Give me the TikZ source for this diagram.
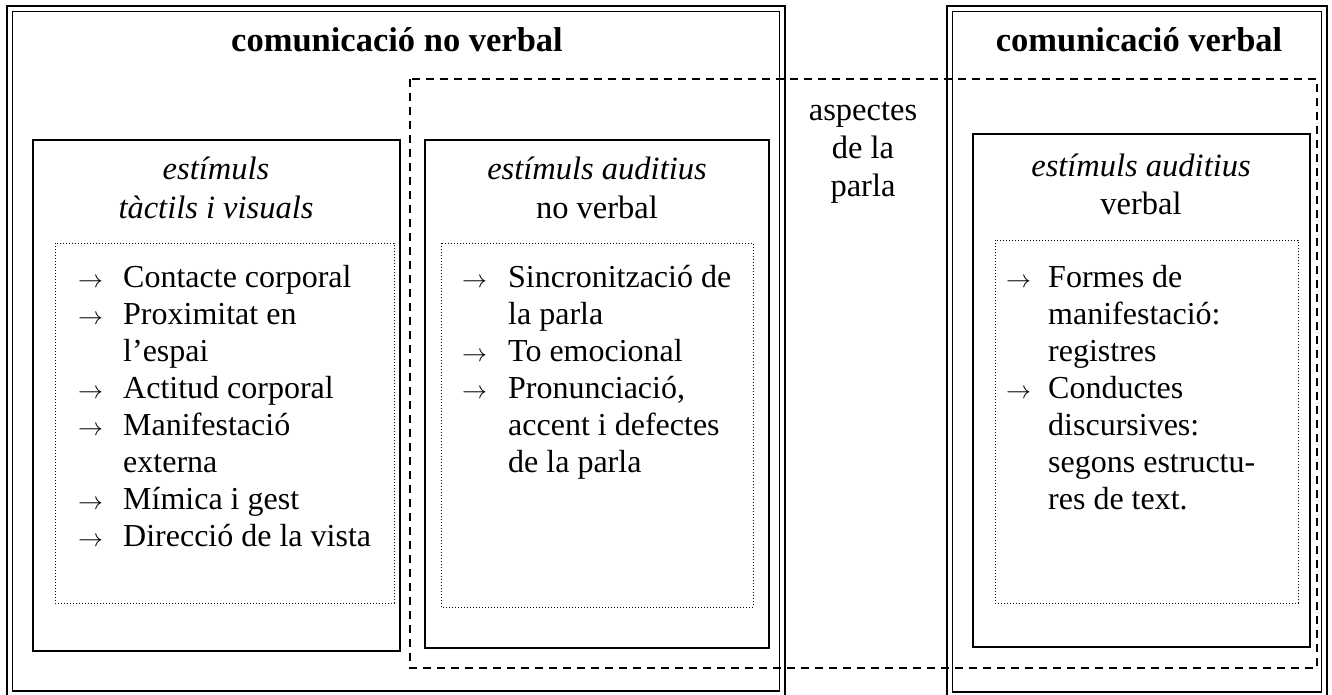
\documentclass[tikz,border=0pt]{standalone}
\usepackage{fontspec}
\setmainfont{Liberation Serif}
\newcommand\myarr{\fontsize{27}{27}\selectfont$\rightarrow$}
\begin{document}
\begin{tikzpicture}[x=1pt,y=-1pt,
  dbl/.style={line width=1.9pt},
  inbox/.style={line width=1.6pt},
  dotbox/.style={line width=0.9pt, dash pattern=on 1pt off 2pt},
  dashbox/.style={line width=1.8pt, dash pattern=on 8pt off 6pt},
  ttl/.style={inner sep=0pt, anchor=base, font=\fontsize{34.5}{38}\selectfont\bfseries},
  hd/.style={inner sep=0pt, anchor=base, font=\fontsize{32.5}{38}\selectfont},
  lst/.style={inner sep=0pt, anchor=base west, font=\fontsize{32}{37}\selectfont}
]
\useasboundingbox (0,0) rectangle (1332,695);
\clip (0,0) rectangle (1332,695);
% double-framed outer boxes
\draw[dbl] (7,6) rectangle (785,700);
\draw[dbl] (12.5,11.5) rectangle (779.5,691);
\draw[dbl] (947,6) rectangle (1327,700);
\draw[dbl] (952.5,11.5) rectangle (1321.5,692);
% dashed box
\draw[dashbox] (410,79) rectangle (1317,668);
% inner boxes
\draw[inbox] (33,140) rectangle (400,651);
\draw[inbox] (425,140) rectangle (769,648);
\draw[inbox] (973,134) rectangle (1310,647);
% dotted boxes
\draw[dotbox] (55,243) rectangle (394,603);
\draw[dotbox] (441,243) rectangle (753,607);
\draw[dotbox] (995,240) rectangle (1298,603);
% titles
\node[ttl] (t1) at (397,52) {comunicació no verbal};
\node[ttl] (t2) at (1139,52) {comunicació verbal};
\node[hd] (asp) at (863,121) {\begin{tabular}[t]{@{}c@{}}aspectes\\de la\\parla\end{tabular}};
% headings
\node[hd] (h1) at (216,180) {\begin{tabular}[t]{@{}c@{}}\itshape estímuls\\\itshape tàctils i visuals\end{tabular}};
\node[hd] (h2) at (597,180) {\begin{tabular}[t]{@{}c@{}}\itshape estímuls auditius\\no verbal\end{tabular}};
\node[hd] (h3) at (1141,176) {\begin{tabular}[t]{@{}c@{}}\itshape estímuls auditius\\verbal\end{tabular}};
% lists
\node[lst] (l1) at (78,287) {\begin{tabular}[t]{@{}p{45pt}@{}l@{}}
\myarr & Contacte corporal\\
\myarr & Proximitat en\\
 & l’espai\\
\myarr & Actitud corporal\\
\myarr & Manifestació\\
 & externa\\
\myarr & Mímica i gest\\
\myarr & Direcció de la vista
\end{tabular}};
\node[lst] (l2) at (462,287) {\begin{tabular}[t]{@{}p{46pt}@{}l@{}}
\myarr & Sincronització de\\
 & la parla\\
\myarr & To emocional\\
\myarr & Pronunciació,\\
 & accent i defectes\\
 & de la parla
\end{tabular}};
\node[lst] (l3) at (1006,287) {\begin{tabular}[t]{@{}p{42pt}@{}l@{}}
\myarr & Formes de\\
 & manifestació:\\
 & registres\\
\myarr & Conductes\\
 & discursives:\\
 & segons estructu-\\
 & res de text.
\end{tabular}};
\end{tikzpicture}
\end{document}
